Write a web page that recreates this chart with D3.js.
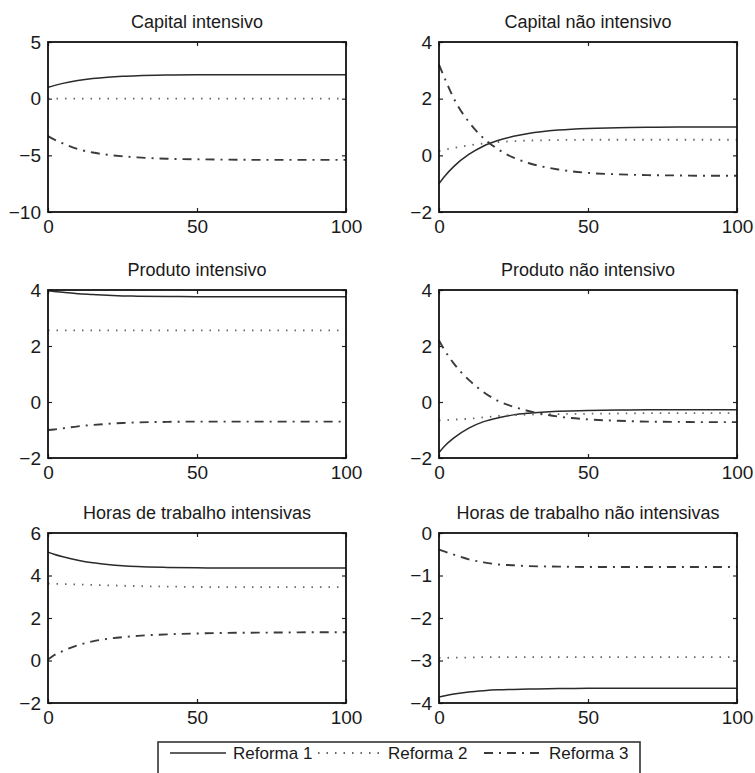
<!DOCTYPE html>
<html>
<head>
<meta charset="utf-8">
<script src="https://cdn.jsdelivr.net/npm/d3@7"></script>
<style>
body { margin: 0; background: white; }
text { font-family: "Liberation Sans", Arial, sans-serif; fill: #1a1a1a; }
</style>
</head>
<body>
<div id="chart-area"></div>
<script>
/*
*    irf panels
*/

// Periods (shared x values)
const periods = [0, 2, 5, 10, 15, 20, 25, 30, 40, 50, 60, 70, 80, 90, 100];

const titles = ["Capital intensivo", "Capital não intensivo",
                "Produto intensivo", "Produto não intensivo",
                "Horas de trabalho intensivas", "Horas de trabalho não intensivas"];

const yDomains = [[-10, 5], [-2, 4], [-2, 4], [-2, 4], [-2, 6], [-4, 0]];
const yTicks = [[-10, -5, 0, 5], [-2, 0, 2, 4], [-2, 0, 2, 4], [-2, 0, 2, 4], [-2, 0, 2, 4, 6], [-4, -3, -2, -1, 0]];
const xTicks = [0, 50, 100];

const seriesNames = ["Reforma 1", "Reforma 2", "Reforma 3"];

// Reforma 1, 2, 3 for each panel
const capitalIntensivo = [
    [1.0, 1.15, 1.35, 1.6, 1.78, 1.9, 1.98, 2.03, 2.08, 2.1, 2.1, 2.1, 2.1, 2.1, 2.1],
    [0.0, 0.0, 0.0, 0.0, 0.0, 0.0, 0.0, 0.0, 0.0, 0.0, 0.0, 0.0, 0.0, 0.0, 0.0],
    [-3.3, -3.6, -3.95, -4.45, -4.75, -4.95, -5.08, -5.18, -5.3, -5.35, -5.38, -5.4, -5.4, -5.4, -5.4]
];
const capitalNaoIntensivo = [
    [-1.0, -0.73, -0.39, 0.03, 0.33, 0.53, 0.67, 0.77, 0.89, 0.95, 0.97, 0.99, 1.0, 1.0, 1.0],
    [0.15, 0.2, 0.26, 0.35, 0.42, 0.47, 0.5, 0.52, 0.54, 0.55, 0.55, 0.55, 0.55, 0.55, 0.55],
    [3.2, 2.7, 2.0, 1.18, 0.6, 0.2, -0.08, -0.27, -0.5, -0.62, -0.67, -0.7, -0.71, -0.72, -0.72]
];
const produtoIntensivo = [
    [3.97, 3.95, 3.92, 3.87, 3.84, 3.81, 3.79, 3.78, 3.77, 3.76, 3.76, 3.76, 3.76, 3.76, 3.76],
    [2.56, 2.56, 2.56, 2.56, 2.56, 2.56, 2.56, 2.56, 2.56, 2.56, 2.56, 2.56, 2.56, 2.56, 2.56],
    [-1.0, -0.98, -0.94, -0.87, -0.82, -0.78, -0.75, -0.73, -0.71, -0.7, -0.7, -0.7, -0.7, -0.7, -0.7]
];
const produtoNaoIntensivo = [
    [-1.8, -1.56, -1.28, -0.93, -0.7, -0.56, -0.46, -0.4, -0.33, -0.3, -0.29, -0.28, -0.28, -0.28, -0.28],
    [-0.66, -0.65, -0.63, -0.6, -0.55, -0.5, -0.47, -0.45, -0.43, -0.42, -0.41, -0.4, -0.4, -0.4, -0.4],
    [2.2, 1.83, 1.37, 0.79, 0.35, 0.03, -0.17, -0.32, -0.52, -0.62, -0.67, -0.7, -0.71, -0.72, -0.72]
];
const horasIntensivas = [
    [5.1, 5.0, 4.88, 4.72, 4.6, 4.52, 4.46, 4.42, 4.38, 4.36, 4.35, 4.35, 4.35, 4.35, 4.35],
    [3.62, 3.61, 3.6, 3.58, 3.56, 3.54, 3.52, 3.5, 3.48, 3.46, 3.45, 3.45, 3.45, 3.45, 3.45],
    [0.05, 0.25, 0.45, 0.72, 0.9, 1.02, 1.1, 1.16, 1.23, 1.27, 1.3, 1.31, 1.32, 1.33, 1.33]
];
const horasNaoIntensivas = [
    [-3.86, -3.83, -3.79, -3.74, -3.71, -3.69, -3.68, -3.67, -3.66, -3.65, -3.65, -3.65, -3.65, -3.65, -3.65],
    [-2.94, -2.94, -2.93, -2.93, -2.92, -2.92, -2.92, -2.92, -2.92, -2.92, -2.92, -2.92, -2.92, -2.92, -2.92],
    [-0.39, -0.44, -0.51, -0.62, -0.69, -0.74, -0.76, -0.78, -0.79, -0.8, -0.8, -0.8, -0.8, -0.8, -0.8]
];

const panelData = [capitalIntensivo, capitalNaoIntensivo, produtoIntensivo,
                   produtoNaoIntensivo, horasIntensivas, horasNaoIntensivas];

// Layout
const width = 755;
const height = 773;
const colX = [48, 439];
const rowY = [42, 290, 533];
const rowH = [170, 168, 170];
const plotW = 298;

// Line styles per series
const lineStyles = [
    {stroke: "#2a2a2a", width: 1.5, dash: null},
    {stroke: "#666", width: 1.8, dash: "1.5,7"},
    {stroke: "#3a3a3a", width: 1.9, dash: "9,6,2,6"}
];

const svg = d3.select("#chart-area")
    .append("svg")
    .attr("width", width)
    .attr("height", height);

svg.append("rect")
    .attr("width", "100%")
    .attr("height", "100%")
    .attr("fill", "white");

panelData.forEach((series, i) => {
    const col = i % 2;
    const row = Math.floor(i / 2);
    const h = rowH[row];

    const g = svg.append("g")
        .attr("transform", "translate(" + colX[col] + "," + rowY[row] + ")");

    // Scales
    const x = d3.scaleLinear().domain([0, 100]).range([0, plotW]);
    const y = d3.scaleLinear().domain(yDomains[i]).range([h, 0]);

    // Title
    g.append("text")
        .attr("x", plotW / 2)
        .attr("y", -14)
        .attr("text-anchor", "middle")
        .attr("font-size", "18px")
        .text(titles[i]);

    // Axes with inward ticks (all four sides)
    g.append("g")
        .attr("transform", "translate(0," + h + ")")
        .call(d3.axisBottom(x).tickValues(xTicks).tickSize(-4).tickPadding(8).tickFormat(d3.format("d")));
    g.append("g")
        .call(d3.axisTop(x).tickValues(xTicks).tickSize(-4).tickFormat(""));
    g.append("g")
        .call(d3.axisLeft(y).tickValues(yTicks[i]).tickSize(-4).tickPadding(7).tickFormat(d3.format("d")));
    g.append("g")
        .attr("transform", "translate(" + plotW + ",0)")
        .call(d3.axisRight(y).tickValues(yTicks[i]).tickSize(-4).tickFormat(""));

    g.selectAll(".domain").remove();
    g.selectAll(".tick line").attr("stroke", "#222").attr("stroke-width", 1.2);
    g.selectAll(".tick text")
        .attr("font-family", "Liberation Sans, Arial, sans-serif")
        .attr("font-size", "19px")
        .attr("fill", "#1a1a1a");

    // Lines
    const line = d3.line()
        .x((d, k) => x(periods[k]))
        .y(d => y(d))
        .curve(d3.curveMonotoneX);

    series.forEach((vals, s) => {
        g.append("path")
            .datum(vals)
            .attr("fill", "none")
            .attr("stroke", lineStyles[s].stroke)
            .attr("stroke-width", lineStyles[s].width)
            .attr("stroke-dasharray", lineStyles[s].dash)
            .attr("d", line);
    });

    // Frame
    g.append("rect")
        .attr("width", plotW)
        .attr("height", h)
        .attr("fill", "none")
        .attr("stroke", "#111")
        .attr("stroke-width", 1.8);
});

// Legend
const legendSlots = [{x1: 170, x2: 226, tx: 233}, {x1: 318, x2: 381, tx: 388}, {x1: 484, x2: 543, tx: 549}];
const legend = svg.append("g");

legend.append("rect")
    .attr("x", 158)
    .attr("y", 742)
    .attr("width", 482)
    .attr("height", 50)
    .attr("fill", "white")
    .attr("stroke", "#333")
    .attr("stroke-width", 1.6);

seriesNames.forEach((name, s) => {
    legend.append("line")
        .attr("x1", legendSlots[s].x1)
        .attr("x2", legendSlots[s].x2)
        .attr("y1", 753)
        .attr("y2", 753)
        .attr("stroke", lineStyles[s].stroke)
        .attr("stroke-width", lineStyles[s].width)
        .attr("stroke-dasharray", lineStyles[s].dash);
    legend.append("text")
        .attr("x", legendSlots[s].tx)
        .attr("y", 753)
        .attr("dy", "0.35em")
        .attr("font-size", "17px")
        .text(name);
});
</script>
</body>
</html>
